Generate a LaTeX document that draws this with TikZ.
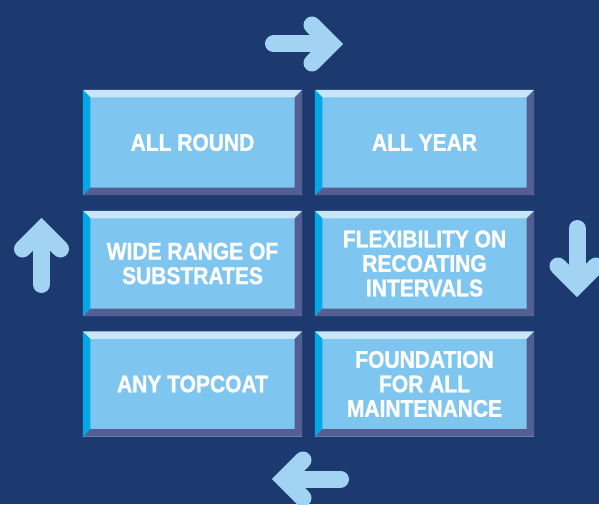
\documentclass[tikz,border=0pt]{standalone}
\usepackage{fontspec}
\newfontfamily\tilefont[FakeStretch=0.875, FakeBold=1.2]{Liberation Sans}
\definecolor{navy}{HTML}{1C3A70}
\definecolor{tileface}{HTML}{7EC6F0}
\definecolor{bevtop}{HTML}{C8E6F8}
\definecolor{bevleft}{HTML}{00A8E8}
\definecolor{bevshade}{HTML}{535F93}
\definecolor{arrowblue}{HTML}{A3D3F3}

\tikzset{
  tile/.style={minimum width=219pt, minimum height=105pt, inner sep=0pt, fill=tileface,
    text=white, align=center, font=\tilefont\bfseries\fontsize{24}{24.5}\selectfont},
  turn/.style={draw=arrowblue, line width=17pt, line cap=round, line join=miter}
}

\begin{document}
\begin{tikzpicture}[x=1pt, y=1pt]
  \fill[navy] (0,0) rectangle (599,504);
  \useasboundingbox (0,0) rectangle (599,504);

  \node (allround) at (192.5, 361.5) [tile] {ALL ROUND};
  \node (allyear) at (424.5, 361.5) [tile] {ALL YEAR};
  \node (substrates) at (192.5, 240.5) [tile] {WIDE RANGE OF\\SUBSTRATES};
  \node (recoating) at (424.5, 240.5) [tile] {FLEXIBILITY ON\\RECOATING\\INTERVALS};
  \node (topcoat) at (192.5, 120) [tile] {ANY TOPCOAT};
  \node (foundation) at (424.5, 120) [tile] {FOUNDATION\\FOR ALL\\MAINTENANCE};

  % bevelled edges
  \foreach \b in {allround, allyear, substrates, recoating, topcoat, foundation} {
    \fill[bevtop] (\b.north west) -- (\b.north east) -- ([shift={(-7.5,-7.5)}]\b.north east) -- ([shift={(7.5,-7.5)}]\b.north west) -- cycle;
    \fill[bevleft] (\b.north west) -- ([shift={(7.5,-7.5)}]\b.north west) -- ([shift={(7.5,7.5)}]\b.south west) -- (\b.south west) -- cycle;
    \fill[bevshade] (\b.north east) -- (\b.south east) -- ([shift={(-7.5,7.5)}]\b.south east) -- ([shift={(-7.5,-7.5)}]\b.north east) -- cycle;
    \fill[bevshade] (\b.south west) -- ([shift={(7.5,7.5)}]\b.south west) -- ([shift={(-7.5,7.5)}]\b.south east) -- (\b.south east) -- cycle;
  }

  % arrows round the grid
  \draw[turn] (273.5, 460) -- (326, 460);
  \draw[turn] (312, 479) -- (331, 460) -- (312, 441);

  \draw[turn] (577, 275.5) -- (577, 224);
  \draw[turn] (558, 238) -- (577, 219) -- (596, 238);

  \draw[turn] (340.5, 25) -- (289, 25);
  \draw[turn] (303, 44) -- (284, 25) -- (303, 6);

  \draw[turn] (41.5, 219.5) -- (41.5, 269);
  \draw[turn] (22.5, 255) -- (41.5, 274) -- (60.5, 255);
\end{tikzpicture}
\end{document}
